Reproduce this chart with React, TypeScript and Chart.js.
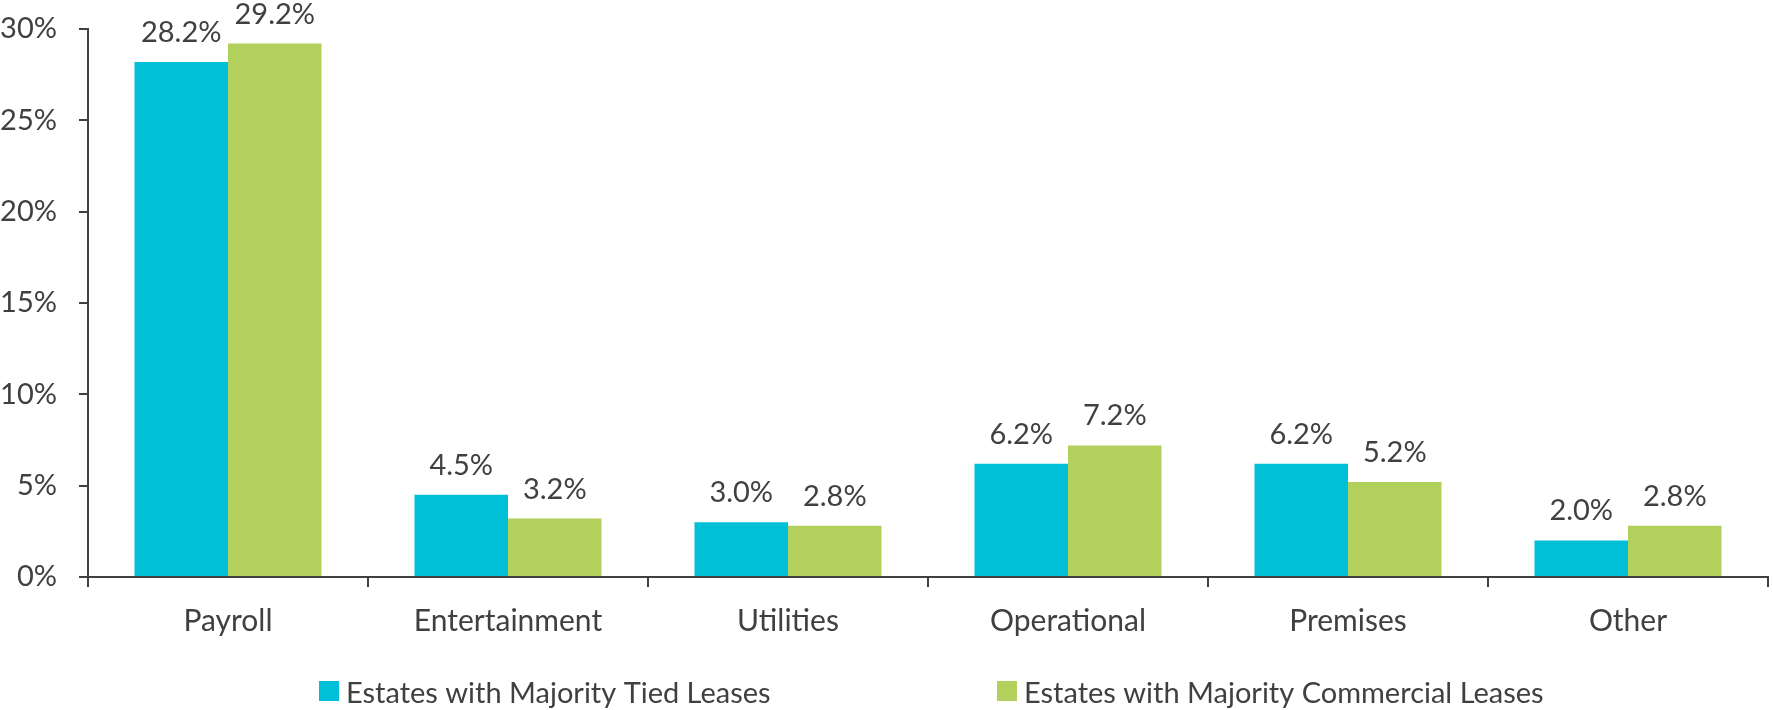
import React, { useEffect, useRef } from "react";
import { Chart, registerables } from "chart.js";

Chart.register(...registerables);

const categories = ["Payroll", "Entertainment", "Utilities", "Operational", "Premises", "Other"];
const seriesNames = ["Estates with Majority Tied Leases", "Estates with Majority Commercial Leases"];
const tiedValues = [28.2, 4.5, 3.0, 6.2, 6.2, 2.0];
const commercialValues = [29.2, 3.2, 2.8, 7.2, 5.2, 2.8];
const yMin = 0;
const yMax = 30;
const yStep = 5;

const FONT = "Lato, 'Open Sans', sans-serif";
const TEXT = "#404040";
const COLORS = ["#00BFD6", "#B2D05C"];

const dataLabelPlugin = {
  id: "dataLabels",
  afterDatasetsDraw(chart: any) {
    const ctx = chart.ctx;
    ctx.save();
    ctx.font = `29px ${FONT}`;
    ctx.fillStyle = TEXT;
    ctx.textAlign = "center";
    ctx.textBaseline = "alphabetic";
    chart.data.datasets.forEach((ds: any, di: number) => {
      const meta = chart.getDatasetMeta(di);
      meta.data.forEach((bar: any, i: number) => {
        const v = ds.data[i];
        ctx.fillText(`${v.toFixed(1)}%`, bar.x, bar.y - 20);
      });
    });
    ctx.restore();
  },
};

const legendPlugin = {
  id: "customLegend",
  afterDraw(chart: any, _args: any, opts: any) {
    const ctx = chart.ctx;
    ctx.save();
    ctx.font = `29px ${FONT}`;
    ctx.textAlign = "left";
    ctx.textBaseline = "alphabetic";
    chart.data.datasets.forEach((ds: any, i: number) => {
      const x = opts.itemX[i];
      ctx.fillStyle = ds.backgroundColor;
      ctx.fillRect(x, opts.boxY, opts.boxSize, opts.boxSize);
      ctx.fillStyle = TEXT;
      ctx.fillText(ds.label, x + opts.boxSize + 7, opts.textY);
    });
    ctx.restore();
  },
};

export default function App() {
  const canvasRef = useRef<HTMLCanvasElement | null>(null);

  useEffect(() => {
    if (!canvasRef.current) return;
    const chart = new Chart(canvasRef.current, {
      type: "bar",
      data: {
        labels: categories,
        datasets: [
          { label: seriesNames[0], data: tiedValues, backgroundColor: COLORS[0] },
          { label: seriesNames[1], data: commercialValues, backgroundColor: COLORS[1] },
        ],
      },
      plugins: [dataLabelPlugin, legendPlugin],
      options: {
        animation: false,
        responsive: true,
        maintainAspectRatio: false,
        layout: { padding: { top: 29, right: 5, left: 0, bottom: 0 } },
        datasets: {
          bar: { categoryPercentage: 0.668, barPercentage: 1.0 },
        },
        plugins: {
          legend: { display: false },
          tooltip: { enabled: false },
          customLegend: { itemX: [319, 997], boxY: 681, boxSize: 20, textY: 703 },
        } as any,
        scales: {
          x: {
            grid: {
              display: true,
              drawOnChartArea: false,
              drawTicks: true,
              tickLength: 10,
              color: TEXT,
              lineWidth: 2,
              offset: true,
            },
            border: { display: true, color: TEXT, width: 2 },
            ticks: {
              color: TEXT,
              font: { family: FONT, size: 30 },
              padding: 16,
              maxRotation: 0,
            },
            afterFit(scale: any) {
              scale.height = 133;
              scale.paddingLeft = 0;
              scale.paddingRight = 0;
            },
          },
          y: {
            min: yMin,
            max: yMax,
            grid: {
              display: true,
              drawOnChartArea: false,
              drawTicks: true,
              tickLength: 9,
              color: TEXT,
              lineWidth: 2,
            },
            border: { display: true, color: TEXT, width: 2 },
            ticks: {
              stepSize: yStep,
              color: TEXT,
              font: { family: FONT, size: 29 },
              padding: 22,
              callback: (v: any) => `${v}%`,
            },
            afterFit(scale: any) {
              scale.width = 88;
              scale.paddingTop = 0;
              scale.paddingBottom = 0;
            },
          },
        },
      },
    });
    return () => chart.destroy();
  }, []);

  return (
    <div style={{ position: "fixed", left: 0, top: 0, width: 1773, height: 710, background: "#fff" }}>
      <canvas ref={canvasRef} />
    </div>
  );
}
